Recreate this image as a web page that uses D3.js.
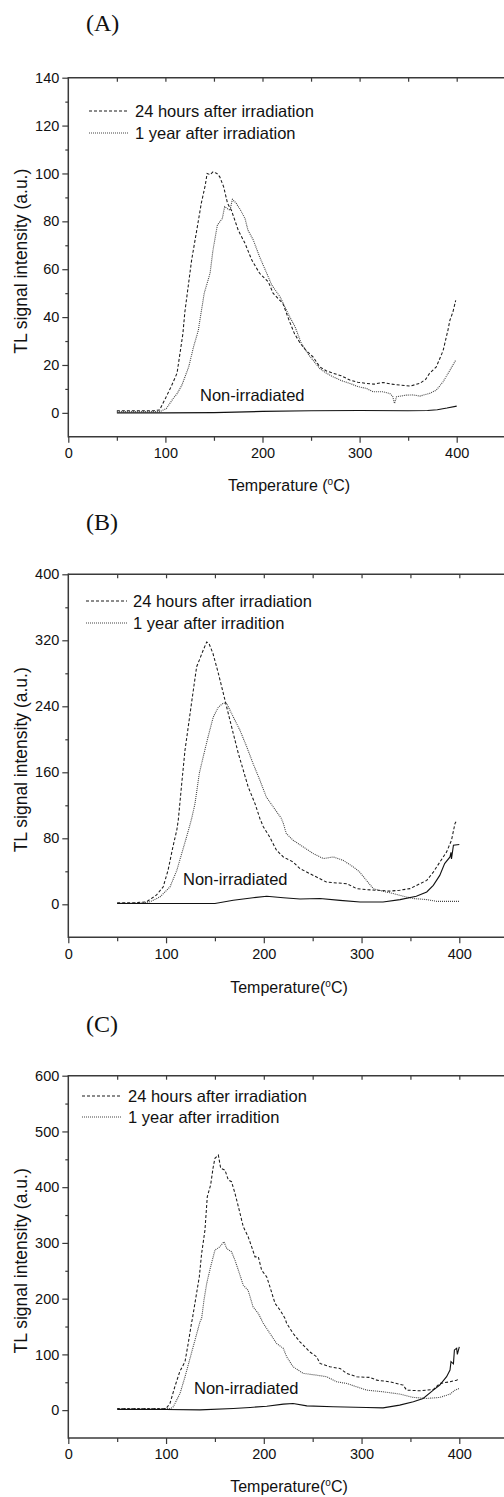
<!DOCTYPE html>
<html>
<head>
<meta charset="utf-8">
<script src="https://cdn.jsdelivr.net/npm/d3@7"></script>
<style>
  html, body { margin: 0; padding: 0; background: #fff; }
  svg { display: block; }
  text { font-family: "Liberation Sans", Arial, sans-serif; fill: #111; }
</style>
</head>
<body>
<svg id="chart" width="504" height="1497"></svg>
<script>
// ---------------- DATA ----------------
const panelLabels = ["(A)", "(B)", "(C)"];
const legendLabelsA = ["24 hours after irradiation", "1 year after irradiation"];
const legendLabelsBC = ["24 hours after irradiation", "1 year after irradition"];
const annotation = "Non-irradiated";
const xTitleA = "Temperature (";
const xTitleBC = "Temperature(";
const yTitle = "TL signal intensity (a.u.)";

const xTicks = [0, 100, 200, 300, 400];
const yTicksA = [0, 20, 40, 60, 80, 100, 120, 140];
const yTicksB = [0, 80, 160, 240, 320, 400];
const yTicksC = [0, 100, 200, 300, 400, 500, 600];

// Panel A  [temperature (°C), TL intensity]
const a24h = [[50,0.9],[70,0.9],[88,0.9],[94,1.2],[100,6],[106,11],[112,16.6],[118,33],[120,42],[127,63.8],[132,75.6],[137,87.6],[141,95],[143,100],[146,99.5],[149,100.7],[153,100],[156,98.6],[160,94.4],[164,87.5],[168,84.6],[175,76.3],[182,70.8],[189,63.8],[197,58.3],[206,54.7],[211,49.9],[221,45.7],[228,38],[233,33],[239,29],[245,26],[252,23.4],[259,19.2],[266,17.5],[273,16.5],[281,15.5],[290,13.7],[298,12.8],[307,12.3],[315,12],[324,12.7],[333,12],[342,11.6],[352,11.2],[362,12.3],[368,14],[372,16.5],[379,19.2],[386,26],[391,34.6],[393,38.7],[396,42],[399,47]];
const a1yr = [[50,0.5],[80,0.5],[94,0.5],[101,1.8],[108,6],[112,8],[117,11.6],[124,19.2],[129,27.6],[134,34.6],[135,37.4],[140,50],[146,58.3],[149,68],[153.5,78.4],[158.6,81.2],[161,86.1],[166.5,84.6],[169,89.2],[173,87.5],[177.5,84.6],[182,81.2],[185,76.3],[190.5,72.2],[197,65.2],[203,59.6],[209.5,53.4],[218,48.5],[223,44.3],[228,40.1],[233.5,36],[240,29],[248,24],[259,18.5],[266,16.5],[273,15],[281,13.5],[290,12.3],[298,11],[307,10.2],[314,8.8],[324,8.8],[331,8.1],[334,7],[336,3.9],[338,6.7],[348,7.4],[355,7.5],[362,7],[372,8.1],[379,9.5],[386,13],[393,17.8],[399,22]];
const aNone = [[50,0],[100,0],[150,0.1],[200,0.6],[250,0.9],[300,1],[350,0.9],[370,1],[380,1.3],[390,2],[400,2.8]];

// Panel B
const b24h = [[50,2],[70,2],[80,3],[90,11],[97,21],[102,41],[107,69.5],[111,90],[112.5,102],[116,146],[119.4,187],[122.7,215],[126,243.5],[131.3,288],[134.7,298],[138,308],[141.6,318],[144,316],[148,304],[153.5,280],[158.6,255.6],[163.7,231],[168.8,207],[173.9,183],[179,162.6],[184,142.3],[191,122],[196,104],[199.5,94],[206,81.7],[213,65.5],[220,57.4],[230,51.3],[237,43.3],[247,37.2],[254,33],[264,27],[274.6,25.9],[284.8,25],[295,19],[305,17.8],[315.5,17],[329,16],[339,17],[349.6,19],[359.8,25],[366.7,29],[373.4,39],[380,51],[387,63.5],[392,77.6],[395.6,98],[397.5,102]];
const b1yr = [[50,1],[75,1.5],[83.6,3],[93.8,9],[104,21],[111,41],[116,61.5],[121,81.7],[126,103],[129.6,122],[134,158.6],[138,178.7],[143,203],[148.3,227],[153.5,239],[158.6,244],[162,243.5],[168.8,227],[175.6,211],[182.5,191],[189,170.7],[196,150.4],[202.6,130],[209.7,118],[218,104],[220,98],[223,85.8],[230,77.6],[240.4,69.5],[250.6,61.5],[261,55.4],[271,57.4],[281,53.4],[291.6,45.3],[298,39.2],[305,29],[312,19],[322,15.8],[332.5,13],[342.7,9.7],[353,7],[366.7,5.7],[377,3.6],[400,3.6]];
const bNone = [[50,1],[100,1],[150,1],[168.8,5],[189,8],[203,9.7],[220,8],[237,6.5],[257.5,7],[278,4.8],[298.5,2.8],[322,2.8],[339.4,5.7],[356,9.7],[366.7,15],[373.4,23],[380,35],[385,49.4],[390.5,57.4],[391.5,63],[392,55],[394,71.6],[400,72.4]];

// Panel C
const c24h = [[50,3],[100,3],[104,12],[109,42],[114,69],[119.4,87],[122.7,120],[126,155.6],[127,164.6],[130.6,203],[134,239],[136.4,281],[139.8,323],[142.2,383],[145.6,404],[148.3,436.7],[150,451.7],[153.5,457.6],[155.9,433.8],[160.3,430.7],[163.7,412.8],[167,409.8],[170.5,389],[174,365],[179,329],[184,311],[187.6,293],[191,275],[194.4,275],[197.8,251],[203,239],[206.3,221],[211.5,191.5],[216.6,179.5],[221.7,164.6],[223.4,155.6],[230,137.6],[237,122.6],[247,104.6],[254,95.7],[257.5,83.8],[267.7,77.7],[278,74.8],[284.8,65.9],[295,59.8],[308.6,58.7],[315.5,53.8],[329,50.8],[342.7,44.9],[346,35.9],[359.8,34.7],[373.4,37],[380,47.9],[390.5,50.8],[397.3,53.8],[400,56.8]];
const c1yr = [[50,3],[105,3],[107.4,6],[114.3,30],[119.4,59.8],[124.5,92.8],[129.6,125.6],[134.7,158.5],[136.4,164.6],[138.8,197.4],[141.6,227.4],[145.6,257.2],[150,287],[155,293],[159.3,302],[162,290],[167,284],[170.5,269],[174,251],[179,224],[184,215],[189,185.4],[194.4,173.5],[199.5,155.6],[206.3,137.6],[213,119.7],[220,110.7],[223.4,95.7],[230,77.7],[240.4,65.9],[254,62.8],[264.4,59.8],[274.6,50.8],[284.8,47.9],[295,41.8],[305.3,35.9],[322,32.9],[339.4,28.7],[353,22.8],[366.7,21],[380,22.8],[390.5,28.7],[395.6,35.9],[400,38.9]];
const cNone = [[50,1],[100,1],[134.7,0.5],[168.8,3],[186,4.8],[203,7],[220,10.8],[230,12],[244,7.7],[271,6],[305,4.8],[322,4],[339,9],[353,15],[363,21],[373.4,36],[380,45],[387,60],[390.5,72],[391.5,87],[394,83],[395,108],[397.3,111],[398,100],[400,113.6]];

// ---------------- LAYOUT ----------------
const panels = [
  { label: panelLabels[0], labelY: 31, xLeft: 68.3, x400: 456.7,
    yDomain: [-10, 140], yTop: 77.7, yBottom: 436.8, yTicks: yTicksA, yMinorStep: 10,
    legend: legendLabelsA, legX1: 89, legX2: 128, legTextX: 135, legY: [111, 133],
    annX: 200, annY: 401, xTitle: xTitleA, xTitleY: 491,
    series: [a24h, a1yr, aNone] },
  { label: panelLabels[1], labelY: 530, xLeft: 68.3, x400: 459.3,
    yDomain: [-40, 400], yTop: 574.3, yBottom: 937.3, yTicks: yTicksB, yMinorStep: 40,
    legend: legendLabelsBC, legX1: 86, legX2: 127, legTextX: 133, legY: [601, 623],
    annX: 183, annY: 885, xTitle: xTitleBC, xTitleY: 993,
    series: [b24h, b1yr, bNone] },
  { label: panelLabels[2], labelY: 1032, xLeft: 68.3, x400: 459.3,
    yDomain: [-50, 600], yTop: 1075.7, yBottom: 1438, yTicks: yTicksC, yMinorStep: 50,
    legend: legendLabelsBC, legX1: 82, legX2: 122, legTextX: 128, legY: [1096, 1117],
    annX: 194, annY: 1394, xTitle: xTitleBC, xTitleY: 1492,
    series: [c24h, c1yr, cNone] }
];

const styles = [
  { stroke: "#1a1a1a", dash: "3,2", width: 1.05 },
  { stroke: "#444", dash: "1,1", width: 1.1 },
  { stroke: "#111", dash: null, width: 1.1 }
];

const svg = d3.select("#chart");
const axisColor = "#3a3a3a";

panels.forEach(p => {
  const g = svg.append("g");
  const x = d3.scaleLinear().domain([0, 400]).range([p.xLeft, p.x400]);
  const xRight = x(450);
  const y = d3.scaleLinear().domain(p.yDomain).range([p.yBottom, p.yTop]);

  // panel label
  g.append("text").attr("x", 86).attr("y", p.labelY)
    .style("font-family", "'Liberation Serif', 'Times New Roman', serif")
    .style("font-size", "24px").text(p.label);

  // bottom axis
  const xAx = g.append("g").attr("transform", `translate(0,${p.yBottom})`)
    .call(d3.axisBottom(x).tickValues(xTicks).tickSize(6).tickPadding(5).tickFormat(d3.format("d")));
  xAx.select(".domain").remove();
  xAx.selectAll("text").style("font-size", "14.5px").style("font-family", "'Liberation Sans', Arial, sans-serif").attr("fill", "#111");
  xAx.selectAll("line").attr("stroke", axisColor).attr("stroke-width", 1.2);
  g.append("g").attr("transform", `translate(0,${p.yBottom})`)
    .call(d3.axisBottom(x).tickValues(d3.range(50, 451, 100)).tickSize(4).tickFormat(""))
    .call(s => s.select(".domain").remove())
    .selectAll("line").attr("stroke", axisColor).attr("stroke-width", 1.2);
  // top ticks (inward)
  g.append("g").attr("transform", `translate(0,${p.yTop})`)
    .call(d3.axisBottom(x).tickValues(d3.range(50, 451, 50)).tickSize(4).tickFormat(""))
    .call(s => s.select(".domain").remove())
    .selectAll("line").attr("stroke", axisColor).attr("stroke-width", 1.2);

  // left axis
  const yAx = g.append("g").attr("transform", `translate(${p.xLeft},0)`)
    .call(d3.axisLeft(y).tickValues(p.yTicks).tickSize(6).tickPadding(3).tickFormat(d3.format("d")));
  yAx.select(".domain").remove();
  yAx.selectAll("text").style("font-size", "14.5px").style("font-family", "'Liberation Sans', Arial, sans-serif").attr("fill", "#111");
  yAx.selectAll("line").attr("stroke", axisColor).attr("stroke-width", 1.2);
  const yMinorVals = d3.range(p.yDomain[0], p.yDomain[1] + 0.001, p.yMinorStep)
    .filter(v => !p.yTicks.includes(v) && v !== p.yDomain[0]);
  g.append("g").attr("transform", `translate(${p.xLeft},0)`)
    .call(d3.axisLeft(y).tickValues(yMinorVals).tickSize(3).tickFormat(""))
    .call(s => s.select(".domain").remove())
    .selectAll("line").attr("stroke", axisColor).attr("stroke-width", 1.2);

  // frame lines
  g.append("line").attr("x1", p.xLeft).attr("x2", xRight).attr("y1", p.yBottom).attr("y2", p.yBottom)
    .attr("stroke", axisColor).attr("stroke-width", 1.5);
  g.append("line").attr("x1", p.xLeft).attr("x2", xRight).attr("y1", p.yTop).attr("y2", p.yTop)
    .attr("stroke", axisColor).attr("stroke-width", 1.5);
  g.append("line").attr("x1", p.xLeft).attr("x2", p.xLeft).attr("y1", p.yTop - 0.75).attr("y2", p.yBottom + 0.75)
    .attr("stroke", axisColor).attr("stroke-width", 1.5);

  // axis titles
  const xt = g.append("text").attr("x", 289).attr("y", p.xTitleY).attr("text-anchor", "middle").style("font-size", "16px");
  xt.append("tspan").text(p.xTitle);
  xt.append("tspan").attr("dy", -6).style("font-size", "10px").text("o");
  xt.append("tspan").attr("dy", 6).text("C)");

  const yMid = (p.yTop + p.yBottom) / 2 + 4;
  g.append("text").attr("transform", `translate(27,${yMid}) rotate(-90)`)
    .attr("text-anchor", "middle").style("font-size", "17.5px").text(yTitle);

  // curves
  const line = d3.line().x(d => x(d[0])).y(d => y(d[1]));
  p.series.forEach((data, i) => {
    const st = styles[i];
    const path = g.append("path").datum(data).attr("d", line)
      .attr("fill", "none").attr("stroke", st.stroke).attr("stroke-width", st.width);
    if (st.dash) path.attr("stroke-dasharray", st.dash);
  });

  // legend
  p.legend.forEach((txt, i) => {
    const st = styles[i];
    const l = g.append("line").attr("x1", p.legX1).attr("x2", p.legX2)
      .attr("y1", p.legY[i]).attr("y2", p.legY[i])
      .attr("stroke", st.stroke).attr("stroke-width", st.width);
    if (st.dash) l.attr("stroke-dasharray", st.dash);
    g.append("text").attr("x", p.legTextX).attr("y", p.legY[i] + 6)
      .style("font-size", "16.5px").text(txt);
  });

  // annotation
  g.append("text").attr("x", p.annX).attr("y", p.annY).style("font-size", "16.5px").text(annotation);
});
</script>
</body>
</html>
